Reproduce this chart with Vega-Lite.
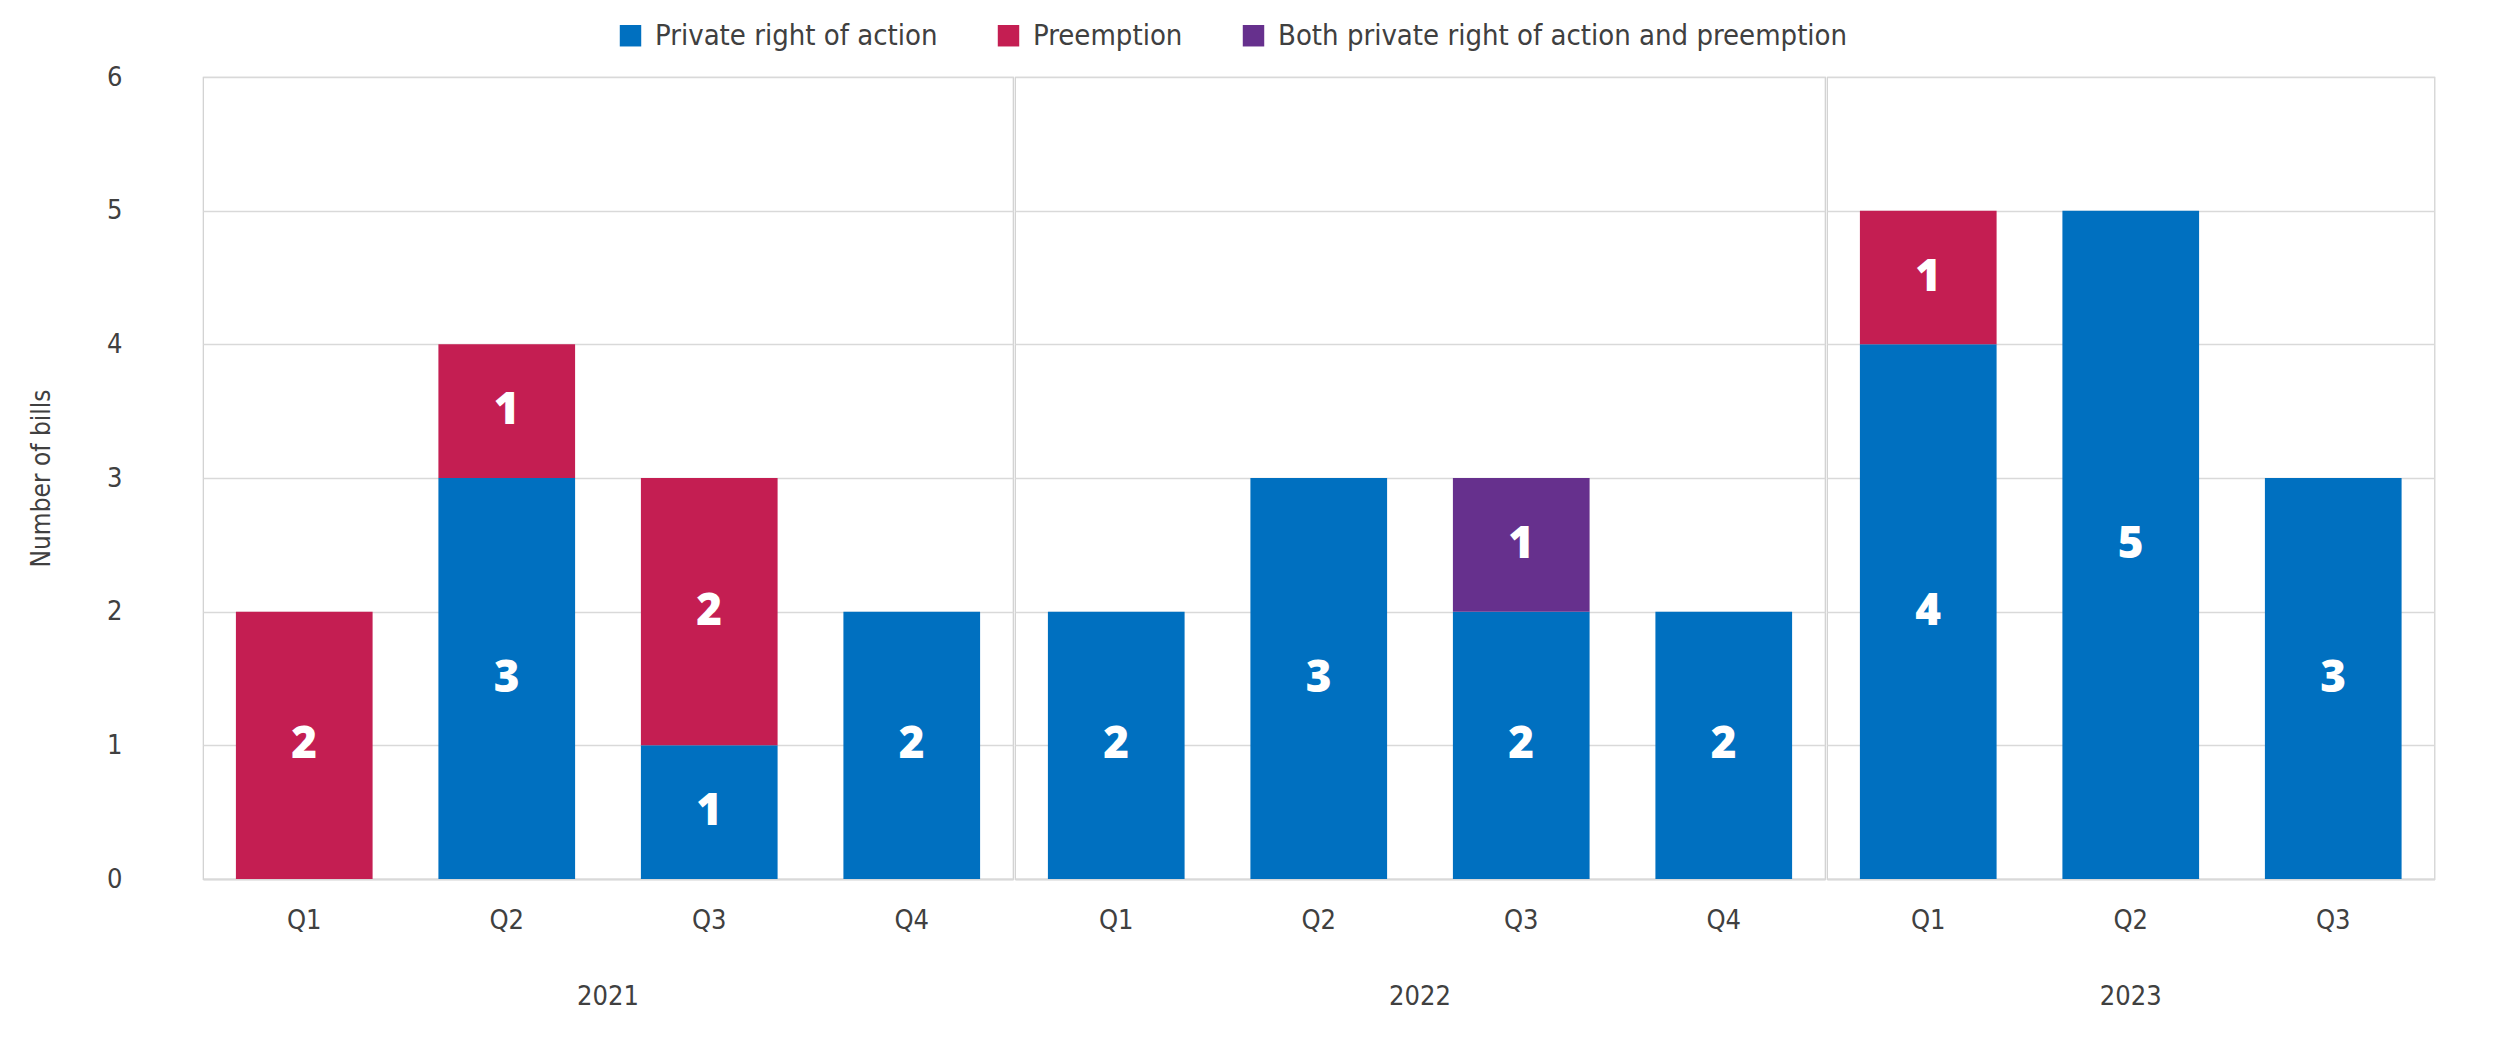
{
  "$schema": "https://vega.github.io/schema/vega-lite/v6.json",
  "padding": {"left": 28, "top": 21, "right": 5, "bottom": 5},
  "background": "white",
  "data": {"values": [
    {"year": "2021", "quarter": "Q1", "cat": "Preemption", "n": 2},
    {"year": "2021", "quarter": "Q2", "cat": "Private right of action", "n": 3},
    {"year": "2021", "quarter": "Q2", "cat": "Preemption", "n": 1},
    {"year": "2021", "quarter": "Q3", "cat": "Private right of action", "n": 1},
    {"year": "2021", "quarter": "Q3", "cat": "Preemption", "n": 2},
    {"year": "2021", "quarter": "Q4", "cat": "Private right of action", "n": 2},
    {"year": "2022", "quarter": "Q1", "cat": "Private right of action", "n": 2},
    {"year": "2022", "quarter": "Q2", "cat": "Private right of action", "n": 3},
    {"year": "2022", "quarter": "Q3", "cat": "Private right of action", "n": 2},
    {"year": "2022", "quarter": "Q3", "cat": "Both private right of action and preemption", "n": 1},
    {"year": "2022", "quarter": "Q4", "cat": "Private right of action", "n": 2},
    {"year": "2023", "quarter": "Q1", "cat": "Private right of action", "n": 4},
    {"year": "2023", "quarter": "Q1", "cat": "Preemption", "n": 1},
    {"year": "2023", "quarter": "Q2", "cat": "Private right of action", "n": 5},
    {"year": "2023", "quarter": "Q3", "cat": "Private right of action", "n": 3}
  ]},
  "transform": [
    {"stack": "n", "groupby": ["year", "quarter"], "sort": [{"field": "cat", "order": "descending"}], "as": ["y0", "y1"]}
  ],
  "facet": {
    "column": {
      "field": "year", "type": "ordinal", "title": null,
      "header": {"labelOrient": "bottom", "labelFont": "DejaVu Sans Condensed", "labelFontSize": 27, "labelColor": "#404040", "labelPadding": 50}
    }
  },
  "spacing": 0,
  "resolve": {"scale": {"x": "independent"}},
  "spec": {
    "width": {"step": 202.5},
    "height": 802,
    "layer": [
      {
        "mark": {"type": "bar"},
        "encoding": {
          "x": {"field": "quarter", "type": "nominal", "title": null, "sort": null,
                "scale": {"paddingInner": 0.325, "paddingOuter": 0.1625},
                "axis": {"labelAngle": 0, "ticks": false, "domainColor": "#d9d9d9", "domainWidth": 2, "labelPadding": 28, "labelFontSize": 27}},
          "y": {"field": "y1", "type": "quantitative", "title": "Number of bills",
                "scale": {"domain": [0, 6], "nice": false},
                "axis": {"values": [0, 1, 2, 3, 4, 5, 6], "labelPadding": 80, "titlePadding": 52, "titleFontSize": 26, "labelFontSize": 27}},
          "y2": {"field": "y0"},
          "color": {"field": "cat", "type": "nominal", "title": null,
                    "scale": {"domain": ["Private right of action", "Preemption", "Both private right of action and preemption"],
                              "range": ["#0070c0", "#c41e52", "#66308d"]},
                    "legend": {"orient": "top", "direction": "horizontal", "symbolType": "square", "symbolSize": 460, "labelFontSize": 29, "columnPadding": 56, "labelOffset": 10, "symbolStrokeWidth": 0, "offset": 12}}
        }
      },
      {
        "transform": [
          {"fold": ["y0", "y1"], "as": ["k", "v"]},
          {"aggregate": [{"op": "mean", "field": "v", "as": "mid"}], "groupby": ["year", "quarter", "cat", "n"]}
        ],
        "mark": {"type": "text", "color": "white", "font": "Open Sans", "fontWeight": 800, "fontSize": 44, "baseline": "middle", "align": "center"},
        "encoding": {
          "x": {"field": "quarter", "type": "nominal", "sort": null},
          "y": {"field": "mid", "type": "quantitative",
                "axis": {"values": [0, 1, 2, 3, 4, 5, 6], "labelPadding": 80, "titlePadding": 52, "titleFontSize": 26, "labelFontSize": 27}},
          "text": {"field": "n", "type": "quantitative"}
        }
      }
    ]
  },
  "config": {
    "font": "DejaVu Sans Condensed",
    "view": {"stroke": "#cfcfcf", "strokeWidth": 1.2},
    "axis": {"labelColor": "#404040", "titleColor": "#404040", "labelFont": "DejaVu Sans Condensed", "titleFont": "DejaVu Sans Condensed", "titleFontWeight": "normal", "gridColor": "#d9d9d9", "gridWidth": 1.5},
    "axisY": {"domain": false, "ticks": false, "grid": true},
    "axisX": {"grid": false},
    "legend": {"labelColor": "#404040", "labelFont": "DejaVu Sans Condensed", "labelLimit": 0, "layout": {"top": {"anchor": "middle"}}}
  }
}
